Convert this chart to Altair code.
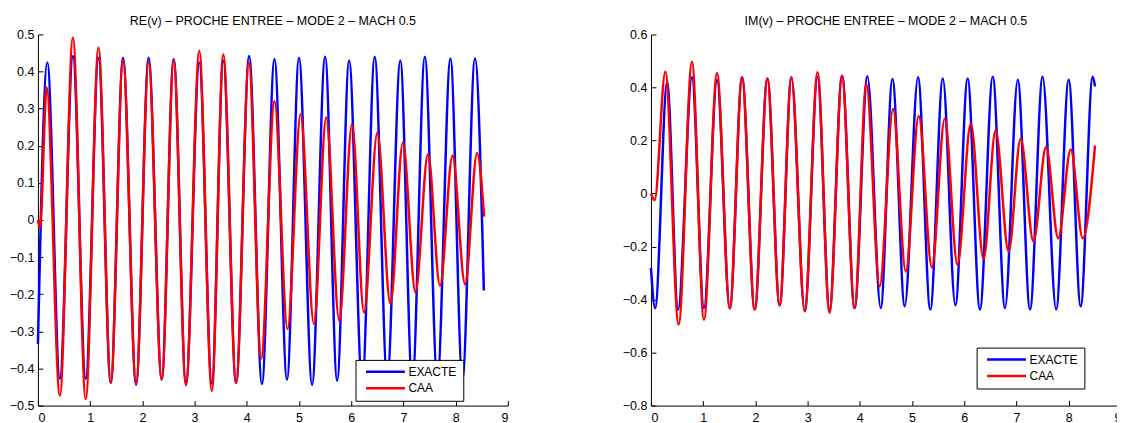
import altair as alt
import pandas as pd

FONT = "Liberation Sans"
SERIES = ["EXACTE", "CAA"]
COLORS = ["#0000ff", "#ff0000"]

# ---- RE(v) panel: peaks / troughs ----
RE_EXACT_X = [0.0, 0.18, 0.42, 0.67, 0.915, 1.16, 1.395, 1.63, 1.88, 2.12, 2.37, 2.60, 2.835,
              3.09, 3.33, 3.55, 3.795, 4.045, 4.29, 4.53, 4.77, 5.0, 5.25, 5.50, 5.73, 5.96,
              6.21, 6.45, 6.69, 6.94, 7.17, 7.41, 7.65, 7.90, 8.13, 8.37, 8.54]
RE_EXACT_Y = [-0.334, 0.424, -0.428, 0.442, -0.428, 0.437, -0.439, 0.437, -0.444, 0.437, -0.43,
              0.434, -0.44, 0.424, -0.44, 0.43, -0.439, 0.442, -0.442, 0.434, -0.43, 0.437,
              -0.444, 0.44, -0.433, 0.43, -0.44, 0.44, -0.43, 0.43, -0.44, 0.44, -0.43, 0.435,
              -0.428, 0.435, -0.19]
RE_CAA_X = [0.0, 0.04, 0.167, 0.42, 0.67, 0.915, 1.16, 1.395, 1.63, 1.88, 2.12, 2.37, 2.60,
            2.835, 3.09, 3.33, 3.55, 3.795, 4.04, 4.275, 4.53, 4.78, 5.03, 5.285, 5.52, 5.77,
            6.015, 6.245, 6.50, 6.75, 6.99, 7.23, 7.47, 7.70, 7.94, 8.18, 8.41, 8.545]
RE_CAA_Y = [0.0, -0.02, 0.357, -0.473, 0.491, -0.482, 0.464, -0.439, 0.43, -0.44, 0.425, -0.43,
            0.43, -0.445, 0.455, -0.46, 0.446, -0.439, 0.424, -0.374, 0.32, -0.294, 0.285,
            -0.28, 0.276, -0.271, 0.258, -0.249, 0.235, -0.226, 0.209, -0.195, 0.177, -0.177,
            0.173, -0.173, 0.18, 0.009]

# ---- IM(v) panel ----
IM_EXACT_X = [0.0, 0.08, 0.31, 0.52, 0.785, 1.015, 1.265, 1.51, 1.745, 1.987, 2.23, 2.465, 2.69,
              2.945, 3.19, 3.42, 3.66, 3.90, 4.145, 4.40, 4.625, 4.86, 5.115, 5.35, 5.59, 5.83,
              6.065, 6.30, 6.546, 6.78, 7.025, 7.26, 7.50, 7.76, 8.0, 8.23, 8.46, 8.505]
IM_EXACT_Y = [-0.281, -0.432, 0.419, -0.438, 0.438, -0.432, 0.429, -0.434, 0.438, -0.438, 0.434,
              -0.422, 0.438, -0.444, 0.44, -0.44, 0.444, -0.432, 0.442, -0.432, 0.432, -0.425,
              0.438, -0.438, 0.434, -0.422, 0.434, -0.438, 0.44, -0.432, 0.429, -0.438, 0.44,
              -0.438, 0.429, -0.425, 0.44, 0.404]
IM_CAA_X = [0.0, 0.07, 0.276, 0.53, 0.785, 1.015, 1.265, 1.51, 1.745, 1.987, 2.23, 2.465, 2.69,
            2.945, 3.19, 3.42, 3.66, 3.90, 4.125, 4.38, 4.636, 4.88, 5.128, 5.38, 5.626, 5.87,
            6.125, 6.37, 6.60, 6.85, 7.08, 7.325, 7.567, 7.80, 8.04, 8.27, 8.505]
IM_CAA_Y = [0.0, -0.025, 0.459, -0.494, 0.497, -0.476, 0.454, -0.434, 0.438, -0.438, 0.434,
            -0.422, 0.438, -0.444, 0.457, -0.45, 0.444, -0.432, 0.413, -0.35, 0.319, -0.294,
            0.292, -0.279, 0.282, -0.269, 0.263, -0.247, 0.238, -0.219, 0.206, -0.181, 0.175,
            -0.169, 0.166, -0.169, 0.181]

X_TICKS = [0, 1, 2, 3, 4, 5, 6, 7, 8, 9]
RE_TICKS = [-0.5, -0.4, -0.3, -0.2, -0.1, 0, 0.1, 0.2, 0.3, 0.4, 0.5]
IM_TICKS = [-0.8, -0.6, -0.4, -0.2, 0, 0.2, 0.4, 0.6]

TITLE_RE = "RE(v) \u2013 PROCHE ENTREE \u2013 MODE 2 \u2013 MACH 0.5"
TITLE_IM = "IM(v) \u2013 PROCHE ENTREE \u2013 MODE 2 \u2013 MACH 0.5"

W, H = 471, 372


def frame(ex, ey, cx, cy):
    rows = [{"serie": "EXACTE", "x": a, "y": b} for a, b in zip(ex, ey)]
    rows += [{"serie": "CAA", "x": a, "y": b} for a, b in zip(cx, cy)]
    return pd.DataFrame(rows)


def panel(df, title, ydom, yticks, lx, ly):
    xs = alt.Scale(domain=[0, 9], nice=False, zero=False)
    ys = alt.Scale(domain=ydom, nice=False, zero=False)
    main_x = alt.Axis(values=X_TICKS, orient="bottom", ticks=False, grid=False, title=None,
                      labelPadding=6, labelFont=FONT, labelFontSize=12.5, labelColor="black",
                      domainColor="black", domainWidth=1, format="~g")
    main_y = alt.Axis(values=yticks, orient="left", ticks=False, grid=False, title=None,
                      labelPadding=4, labelFont=FONT, labelFontSize=12.5, labelColor="black",
                      domainColor="black", domainWidth=1, format="~g")
    tick_x = alt.Axis(values=X_TICKS, orient="bottom", offset=-5, domain=False, labels=False,
                      ticks=True, tickSize=5, tickColor="black", grid=False, title=None)
    tick_y = alt.Axis(values=yticks, orient="left", offset=-5, domain=False, labels=False,
                      ticks=True, tickSize=5, tickColor="black", grid=False, title=None)
    color = alt.Color(
        "serie:N",
        scale=alt.Scale(domain=SERIES, range=COLORS),
        legend=alt.Legend(
            title=None, orient="none", legendX=lx, legendY=ly,
            symbolType="M-9.75,0H9.75", symbolSize=16, symbolStrokeWidth=2.5,
            symbolOffset=18, labelOffset=17, padding=6, rowPadding=4.5,
            labelFont=FONT, labelFontSize=12, labelColor="black",
            strokeColor="black", fillColor="white", cornerRadius=0,
        ),
    )
    base = alt.Chart(df)
    blue = base.transform_filter(alt.datum.serie == "EXACTE").mark_line(
        strokeWidth=2.5, interpolate="monotone").encode(
        x=alt.X("x:Q", scale=xs, axis=main_x),
        y=alt.Y("y:Q", scale=ys, axis=main_y),
        color=color,
    )
    red = base.transform_filter(alt.datum.serie == "CAA").mark_line(
        strokeWidth=2.5, interpolate="monotone").encode(
        x=alt.X("x:Q", scale=xs, axis=None),
        y=alt.Y("y:Q", scale=ys, axis=None),
        color=color,
    )
    ticks = base.mark_line(strokeOpacity=0).encode(
        x=alt.X("x:Q", scale=xs, axis=tick_x),
        y=alt.Y("y:Q", scale=ys, axis=tick_y),
        detail="serie:N",
    )
    return alt.layer(blue, red, ticks).resolve_axis(x="independent", y="independent").properties(
        width=W, height=H,
        title=alt.TitleParams(title, font=FONT, fontSize=12.5, fontWeight="normal",
                              color="black", anchor="middle", offset=1),
    )


left = panel(frame(RE_EXACT_X, RE_EXACT_Y, RE_CAA_X, RE_CAA_Y), TITLE_RE, [-0.5, 0.5],
             RE_TICKS, 318.3, 326.2)
right = panel(frame(IM_EXACT_X, IM_EXACT_Y, IM_CAA_X, IM_CAA_Y), TITLE_IM, [-0.8, 0.6],
              IM_TICKS, 326.4, 313.9)

chart = alt.hconcat(left, right, spacing=113.4).resolve_scale(color="independent").resolve_legend(
    color="independent").properties(
    padding={"left": 1.0, "top": 6, "right": -4.5, "bottom": 0}).configure_view(stroke=None)

chart.save("out.html", embed_options={"renderer": "svg", "actions": False})
